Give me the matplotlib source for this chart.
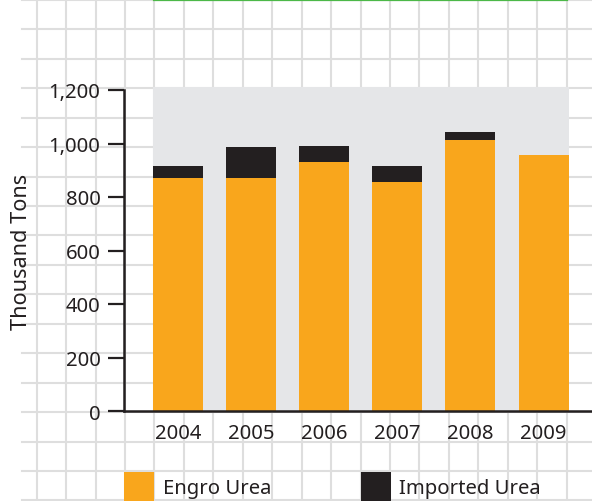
import matplotlib
matplotlib.use("Agg")
import matplotlib.pyplot as plt
from matplotlib.patches import Rectangle
import numpy as np

plt.rcParams['font.family'] = ['Noto Sans', 'DejaVu Sans']

# data (thousand tons)
years = ["2004", "2005", "2006", "2007", "2008", "2009"]
engro = [871, 871, 931, 856, 1013, 957]
imported = [45, 116, 60, 60, 30, 0]

orange = "#f9a61c"
dark = "#231f20"
panel = "#e5e6e8"
paper = "#dedede"

W, H = 592, 502
fig = plt.figure(figsize=(W / 100, H / 100), dpi=100)

# graph-paper background
bg = fig.add_axes([0, 0, 1, 1], zorder=0)
bg.set_xlim(0, W)
bg.set_ylim(H, 0)
bg.axis("off")
step = 29.45
for x in np.arange(36.6, W, step):
    bg.plot([x, x], [0, H], color=paper, lw=1.5)
for y in np.arange(472 - step * 16, H, step):
    bg.plot([22, W], [y, y], color=paper, lw=1.5)
bg.plot([154, 567], [0.8, 0.8], color="#4cb848", lw=1.6)

# main chart
ax = fig.add_axes([124 / W, 1 - 412 / H, 1 - 124 / W, (412 - 91) / H], zorder=1)
ax.patch.set_alpha(0)
x = np.arange(len(years))
bw = 0.684
ax.set_xlim(-0.739, 5.663)
ax.set_ylim(0, 1200)

ax.add_patch(Rectangle((-bw / 2, 0), len(years) - 1 + bw, 1212,
                       facecolor=panel, edgecolor="none", zorder=0, clip_on=False))
ax.bar(x, engro, width=bw, color=orange, zorder=2)
ax.bar(x, imported, width=bw, bottom=engro, color=dark, zorder=2)

for s in ["top", "right"]:
    ax.spines[s].set_visible(False)
for s in ["left", "bottom"]:
    ax.spines[s].set_linewidth(1.8)
    ax.spines[s].set_color(dark)

ax.set_yticks([0, 200, 400, 600, 800, 1000, 1200])
ax.set_yticklabels(["0", "200", "400", "600", "800", "1,000", "1,200"])
ax.set_xticks(x)
ax.set_xticklabels(years)
ax.tick_params(axis="y", length=11.5, width=1.6, pad=5.5, colors=dark,
               labelsize=14.6)
ax.tick_params(axis="x", length=0, pad=8.5, colors=dark, labelsize=14.6)
ax.set_ylabel("Thousand Tons", fontsize=15.6, color=dark, labelpad=12)

# legend boxes
fig.add_artist(Rectangle((124 / W, 0), 30 / W, 29 / H, transform=fig.transFigure,
                         facecolor=orange, edgecolor="none"))
fig.text(163 / W, 1 - 489 / H, "Engro Urea", fontsize=14.6, color=dark, va="center")
fig.add_artist(Rectangle((361 / W, 0), 30 / W, 29 / H, transform=fig.transFigure,
                         facecolor=dark, edgecolor="none"))
fig.text(399 / W, 1 - 489 / H, "Imported Urea", fontsize=14.6, color=dark, va="center")

fig.savefig("out.png", dpi=100)
